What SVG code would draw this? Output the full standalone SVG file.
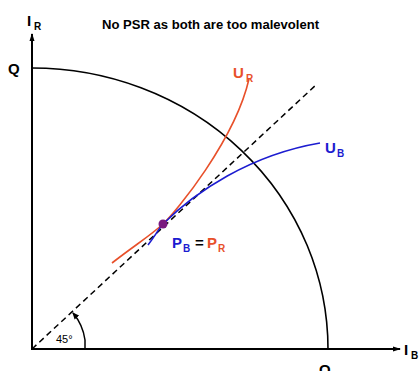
<svg xmlns="http://www.w3.org/2000/svg" width="420" height="371" viewBox="0 0 420 371">
<style>
text{font-family:"Liberation Sans",Arial,sans-serif}
.ax{stroke:#000;stroke-width:2;fill:none}
.lbl{font-weight:bold;font-size:15px}
.sub{font-weight:bold;font-size:10px}
.red{fill:#e8502a}
.blue{fill:#1c1cd0}
</style>
<defs>
<marker id="ah" markerWidth="8" markerHeight="8" refX="7" refY="4" orient="auto" markerUnits="userSpaceOnUse">
<path d="M0,1.5 L8,4 L0,6.5 Z" fill="#000"/>
</marker>
<marker id="ah2" markerWidth="7" markerHeight="7" refX="6" refY="3.5" orient="auto" markerUnits="userSpaceOnUse">
<path d="M0,0.5 L7,3.5 L0,6.5 Z" fill="#000"/>
</marker>
</defs>
<rect width="420" height="371" fill="#fff"/>
<text x="102" y="29" font-size="12" font-weight="bold" textLength="217" lengthAdjust="spacingAndGlyphs">No PSR as both are too malevolent</text>
<g id="axes">
<line class="ax" x1="32" y1="349" x2="32" y2="34" marker-end="url(#ah)"/>
<line class="ax" x1="31" y1="349" x2="400" y2="349" marker-end="url(#ah)"/>
<text x="27" y="26" class="lbl">I</text><text x="34" y="30" class="sub">R</text>
<text x="404" y="355" class="lbl">I</text><text x="411" y="359" class="sub">B</text>
</g>
<g id="budget">
<path d="M32,68 A296,281 0 0 1 328,349" stroke="#000" stroke-width="1.6" fill="none"/>
<text x="8" y="74" font-size="15" font-weight="bold">Q</text>
<text x="319" y="375" font-size="15" font-weight="bold">Q</text>
</g>
<g id="connectors">
<line x1="32" y1="349" x2="317" y2="84" stroke="#000" stroke-width="1.5" stroke-dasharray="6,4"/>
<path d="M85,349 L85,340 A53,53 0 0 0 73,313" stroke="#000" stroke-width="1.5" fill="none" marker-end="url(#ah2)"/>
<text x="56" y="343" font-size="11">45°</text>
</g>
<g id="UR">
<path d="M112,263 C135,245 150,236 163,224 S235,140 249,79" stroke="#e8502a" stroke-width="1.6" fill="none"/>
<text x="233" y="78" class="lbl red">U</text><text x="246" y="82" class="sub red">R</text>
</g>
<g id="UB">
<path d="M148,245 C155,236 158,230 163,224 C195,192 250,155 320,143" stroke="#1c1cd0" stroke-width="1.6" fill="none"/>
<text x="325" y="153" class="lbl blue">U</text><text x="337" y="157" class="sub blue">B</text>
</g>
<g id="P">
<circle cx="163" cy="224" r="4.5" fill="#7a1a80"/>
<text x="172" y="248" class="lbl blue">P</text><text x="183" y="252" class="sub blue">B</text>
<text x="195" y="248" class="lbl">=</text>
<text x="207" y="248" class="lbl red">P</text><text x="218" y="252" class="sub red">R</text>
</g>
</svg>
